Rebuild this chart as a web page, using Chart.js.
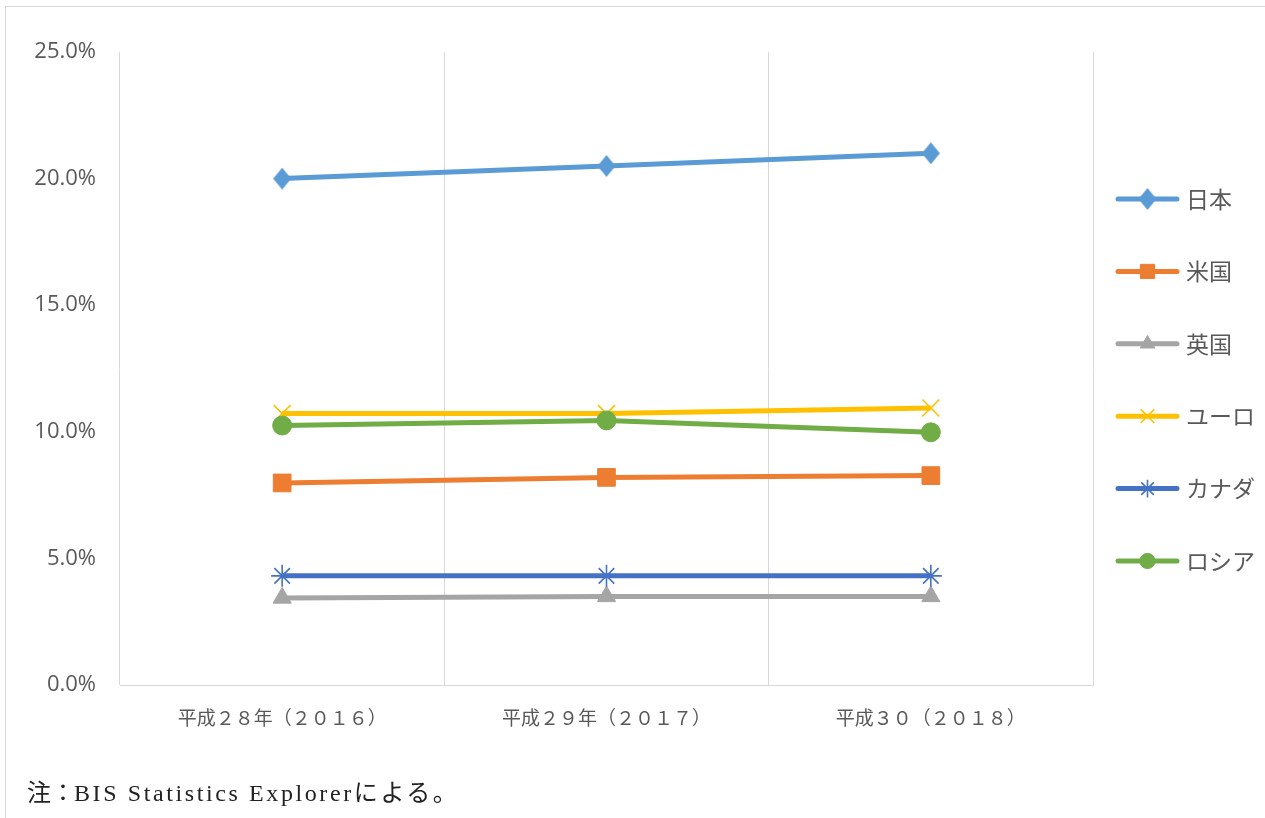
<!DOCTYPE html>
<html lang="ja">
<head>
<meta charset="utf-8">
<title>為替取引シェア</title>
<script src="https://cdn.jsdelivr.net/npm/chart.js@4/dist/chart.umd.min.js"></script>
<style>
    html, body { margin: 0; padding: 0; background: #fff; }
    #wrap { position: relative; width: 1265px; height: 818px; overflow: hidden; }
    #frame { position: absolute; left: 5px; top: 6px; width: 1300px; height: 900px; border: 1px solid #d9d9d9; }
    #note {
        position: absolute; left: 27px; top: 773px;
        font-family: "Liberation Serif", "Noto Sans CJK JP", serif;
        font-size: 24px; letter-spacing: 2.6px; color: #222; white-space: nowrap;
    }
    #note .lead { letter-spacing: 0; margin-right: -1px; }
</style>
</head>
<body>
<div id="wrap">
    <div id="frame"></div>
    <canvas id="shareChart"></canvas>
    <div id="note"><span class="lead">注：</span>BIS Statistics Explorerによる。</div>
</div>
<script>
// categories and series (percent)
const years = ['平成２８年（２０１６）', '平成２９年（２０１７）', '平成３０（２０１８）'];
const japan  = [20.0, 20.5, 21.0];
const usa    = [7.98, 8.2, 8.27];
const uk     = [3.44, 3.5, 3.5];
const euro   = [10.72, 10.72, 10.94];
const canada = [4.31, 4.31, 4.31];
const russia = [10.25, 10.45, 9.98];
const yTicks = [0, 5, 10, 15, 20, 25];

const seriesNames = ['日本', '米国', '英国', 'ユーロ', 'カナダ', 'ロシア'];

// tall diamond marker for 日本
function diamond(color, w, h) {
    const c = document.createElement('canvas');
    c.width = w;
    c.height = h;
    const g = c.getContext('2d');
    g.fillStyle = color;
    g.beginPath();
    g.moveTo(w / 2, 0);
    g.lineTo(w, h / 2);
    g.lineTo(w / 2, h);
    g.lineTo(0, h / 2);
    g.closePath();
    g.fill();
    return c;
}

function makeSet(label, data, color, style, radius, markerWidth) {
    return {
        label: label,
        data: data,
        borderColor: color,
        backgroundColor: color,
        borderWidth: 5,
        pointStyle: style,
        pointRadius: radius,
        pointHoverRadius: radius,
        pointBorderColor: color,
        pointBackgroundColor: color,
        pointBorderWidth: markerWidth,
        tension: 0,
        fill: false
    };
}

const datasets = [
    makeSet(seriesNames[0], japan, '#5B9BD5', diamond('#5B9BD5', 18, 22), 10, 1),
    makeSet(seriesNames[1], usa, '#ED7D31', 'rect', 12.5, 1),
    makeSet(seriesNames[2], uk, '#A5A5A5', 'triangle', 10.5, 1),
    makeSet(seriesNames[3], euro, '#FFC000', 'crossRot', 12, 1.6),
    makeSet(seriesNames[4], canada, '#4472C4', 'star', 11, 1.6),
    makeSet(seriesNames[5], russia, '#70AD47', 'circle', 9.5, 1)
];
// later series sit on top
datasets.forEach((ds, i) => { ds.order = datasets.length - i; });

// legend on the right: line with its marker in the middle
const sideLegend = {
    id: 'sideLegend',
    afterDraw(chart) {
        const ctx = chart.ctx;
        const x0 = 1118, x1 = 1177, top = 199, gap = 72.4;
        chart.data.datasets.forEach((ds, i) => {
            const y = top + i * gap;
            ctx.save();
            ctx.strokeStyle = ds.borderColor;
            ctx.lineWidth = 5;
            ctx.lineCap = 'round';
            ctx.beginPath();
            ctx.moveTo(x0, y);
            ctx.lineTo(x1, y);
            ctx.stroke();
            ctx.restore();
            ctx.save();
            ctx.fillStyle = ds.pointBackgroundColor;
            ctx.strokeStyle = ds.pointBorderColor;
            ctx.lineWidth = ds.pointBorderWidth;
            Chart.helpers.drawPoint(ctx, {
                pointStyle: ds.pointStyle,
                radius: ds.pointRadius * 0.8,
                rotation: 0,
                borderWidth: ds.pointBorderWidth
            }, (x0 + x1) / 2, y);
            ctx.restore();
            ctx.save();
            ctx.fillStyle = '#595959';
            ctx.font = '23px "Noto Sans CJK JP"';
            ctx.textBaseline = 'middle';
            ctx.fillText(ds.label, 1186, y);
            ctx.restore();
        });
    }
};

new Chart(document.getElementById('shareChart'), {
    type: 'line',
    data: { labels: years, datasets: datasets },
    plugins: [sideLegend],
    options: {
        responsive: true,
        maintainAspectRatio: false,
        animation: false,
        layout: { padding: { top: 52, right: 172, left: 0, bottom: 0 } },
        plugins: {
            legend: { display: false },
            tooltip: { enabled: false }
        },
        scales: {
            x: {
                offset: true,
                afterFit(scale) { scale.height = 133; },
                grid: { offset: true, color: '#d9d9d9', lineWidth: 1, drawTicks: false },
                border: { display: true, color: '#d9d9d9', width: 1 },
                ticks: {
                    padding: 21,
                    color: '#595959',
                    font: { family: '"Noto Sans CJK JP"', size: 19 },
                    maxRotation: 0
                }
            },
            y: {
                min: 0,
                max: 25,
                afterFit(scale) { scale.width = 120; },
                afterBuildTicks(scale) { scale.ticks = yTicks.map(v => ({ value: v })); },
                grid: { display: false, drawTicks: false },
                border: { display: false },
                ticks: {
                    padding: 24,
                    color: '#595959',
                    font: { family: '"Open Sans"', size: 22 },
                    callback: v => v.toFixed(1) + '%'
                }
            }
        }
    }
});
</script>
</body>
</html>
